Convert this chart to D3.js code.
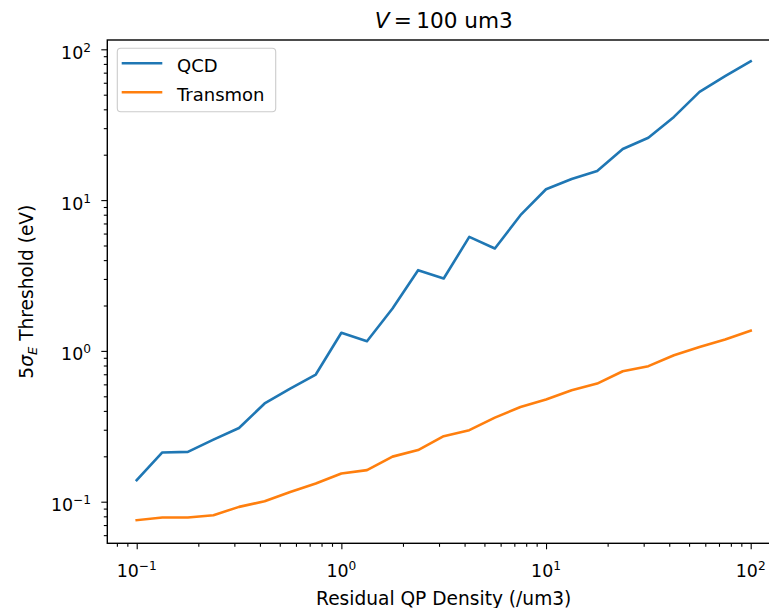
<!DOCTYPE html>
<html>
<head>
<meta charset="utf-8">
<script src="https://cdn.jsdelivr.net/npm/d3@7"></script>
<style>
  html, body { margin: 0; padding: 0; background: #fff; overflow: hidden; }
  svg { display: block; font-family: "DejaVu Sans", sans-serif; }
</style>
</head>
<body>
<svg id="chart" width="769" height="608"></svg>
<script>
// ---- data ----
const density = [0.1, 0.1334, 0.1778, 0.2371, 0.3162, 0.4217, 0.5623, 0.7499,
  1, 1.334, 1.778, 2.371, 3.162, 4.217, 5.623, 7.499,
  10, 13.34, 17.78, 23.71, 31.62, 42.17, 56.23, 74.99, 100];
const qcd = [0.139, 0.212, 0.214, 0.258, 0.308, 0.448, 0.563, 0.697,
  1.32, 1.16, 1.91, 3.43, 3.02, 5.70, 4.78, 7.94,
  11.8, 13.8, 15.6, 21.8, 25.9, 35.6, 52.2, 66.3, 83.4];
const transmon = [0.0754, 0.0785, 0.0785, 0.0813, 0.0924, 0.1007, 0.116, 0.132,
  0.154, 0.162, 0.199, 0.220, 0.272, 0.298, 0.361, 0.425,
  0.476, 0.548, 0.607, 0.733, 0.792, 0.936, 1.06, 1.19, 1.36];
const seriesNames = ["QCD", "Transmon"];
const seriesColors = ["#1f77b4", "#ff7f0e"];
const xTickValues = [0.1, 1, 10, 100];
const xTickExponents = ["\u22121", "0", "1", "2"];
const yTickValues = [0.1, 1, 10, 100];
const yTickExponents = ["\u22121", "0", "1", "2"];

// ---- layout ----
const svg = d3.select("#chart");
const mLeft = 107.3, mRight = 780.1, mTop = 40, mBottom = 543.3;
const FS = 17.4;      // tick labels
const FL = 18.6;      // axis labels
const FLEG = 18;      // legend
const FT = 21.6;      // title

const x = d3.scaleLog().domain([Math.pow(10, -1.1437), Math.pow(10, 2.1437)]).range([mLeft, mRight]);
const y = d3.scaleLog().domain([Math.pow(10, -1.2759), Math.pow(10, 2.0617)]).range([mBottom, mTop]);

// minor ticks
function minorTicks(scale) {
  const [a, b] = scale.domain();
  const out = [];
  for (let e = Math.floor(Math.log10(a)); e <= Math.ceil(Math.log10(b)); e++) {
    for (let m = 2; m <= 9; m++) {
      const v = m * Math.pow(10, e);
      if (v >= a && v <= b) out.push(v);
    }
  }
  return out;
}

const g = svg.append("g");

// X axis
const xAxis = d3.axisBottom(x).tickValues(xTickValues).tickFormat("").tickSize(6).tickSizeOuter(0);
const xMinor = d3.axisBottom(x).tickValues(minorTicks(x)).tickFormat("").tickSize(3.5).tickSizeOuter(0);
const gx = g.append("g").attr("transform", `translate(0,${mBottom})`).call(xAxis);
const gxm = g.append("g").attr("transform", `translate(0,${mBottom})`).call(xMinor);
[gx, gxm].forEach(s => { s.select(".domain").remove(); s.selectAll("line").attr("stroke", "#000").attr("stroke-width", 1.1); });

// Y axis
const yAxis = d3.axisLeft(y).tickValues(yTickValues).tickFormat("").tickSize(6).tickSizeOuter(0);
const yMinor = d3.axisLeft(y).tickValues(minorTicks(y)).tickFormat("").tickSize(3.5).tickSizeOuter(0);
const gy = g.append("g").attr("transform", `translate(${mLeft},0)`).call(yAxis);
const gym = g.append("g").attr("transform", `translate(${mLeft},0)`).call(yMinor);
[gy, gym].forEach(s => { s.select(".domain").remove(); s.selectAll("line").attr("stroke", "#000").attr("stroke-width", 1.1); });

// x tick labels
xTickValues.forEach((v, i) => {
  const t = g.append("text")
    .attr("x", x(v)).attr("y", 576.7)
    .attr("text-anchor", "middle")
    .attr("font-size", FS).attr("fill", "#000");
  t.append("tspan").text("10");
  t.append("tspan").attr("dy", -7).attr("font-size", FS * 0.7).text(xTickExponents[i]);
});
// y tick labels
yTickValues.forEach((v, i) => {
  const t = g.append("text")
    .attr("x", 91).attr("y", y(v) + 9.5)
    .attr("text-anchor", "end")
    .attr("font-size", FS).attr("fill", "#000");
  t.append("tspan").text("10");
  t.append("tspan").attr("dy", -7).attr("font-size", FS * 0.7).text(yTickExponents[i]);
});

// lines
const line = d3.line().x((d, i) => x(density[i])).y(d => y(d));
svg.append("clipPath").attr("id", "plotclip").append("rect")
  .attr("x", mLeft).attr("y", mTop).attr("width", mRight - mLeft).attr("height", mBottom - mTop);
[qcd, transmon].forEach((s, k) => {
  g.append("path").datum(s)
    .attr("d", line)
    .attr("fill", "none")
    .attr("stroke", seriesColors[k])
    .attr("stroke-width", 2.6)
    .attr("stroke-linejoin", "round")
    .attr("stroke-linecap", "square")
    .attr("clip-path", "url(#plotclip)");
});

// spines
g.append("rect").attr("x", mLeft).attr("y", mTop).attr("width", mRight - mLeft).attr("height", mBottom - mTop)
  .attr("fill", "none").attr("stroke", "#000").attr("stroke-width", 1.4);

// legend
const lg = g.append("g");
lg.append("rect").attr("x", 117.3).attr("y", 48.3).attr("width", 158.4).attr("height", 63.4)
  .attr("rx", 3.5).attr("fill", "#fff").attr("fill-opacity", 0.8)
  .attr("stroke", "#cccccc").attr("stroke-width", 1.1);
const legY = [63.3, 92.3];
seriesNames.forEach((n, k) => {
  lg.append("line").attr("x1", 121.7).attr("x2", 162.3).attr("y1", legY[k]).attr("y2", legY[k])
    .attr("stroke", seriesColors[k]).attr("stroke-width", 2.6);
  lg.append("text").attr("x", 177).attr("y", legY[k] + 8.2)
    .attr("font-size", FLEG).attr("fill", "#000").text(n);
});

// title
const title = g.append("text").attr("x", (mLeft + mRight) / 2).attr("y", 28.3)
  .attr("text-anchor", "middle").attr("font-size", FT).attr("fill", "#000");
title.append("tspan").attr("font-style", "italic").text("V");
title.append("tspan").text("\u2009=\u2009100 um3");

// x label
g.append("text").attr("x", (mLeft + mRight) / 2).attr("y", 604.5)
  .attr("text-anchor", "middle").attr("font-size", FL).attr("fill", "#000")
  .text("Residual QP Density (/um3)");

// y label
const yl = g.append("text")
  .attr("transform", `translate(33.3,${(mTop + mBottom) / 2}) rotate(-90)`)
  .attr("text-anchor", "middle").attr("font-size", FL).attr("fill", "#000");
yl.append("tspan").text("5");
yl.append("tspan").attr("font-style", "italic").text("\u03c3");
yl.append("tspan").attr("font-style", "italic").attr("font-size", FL * 0.7).attr("dy", 3.5).text("E");
yl.append("tspan").attr("dy", -3.5).text(" Threshold (eV)");
</script>
</body>
</html>
